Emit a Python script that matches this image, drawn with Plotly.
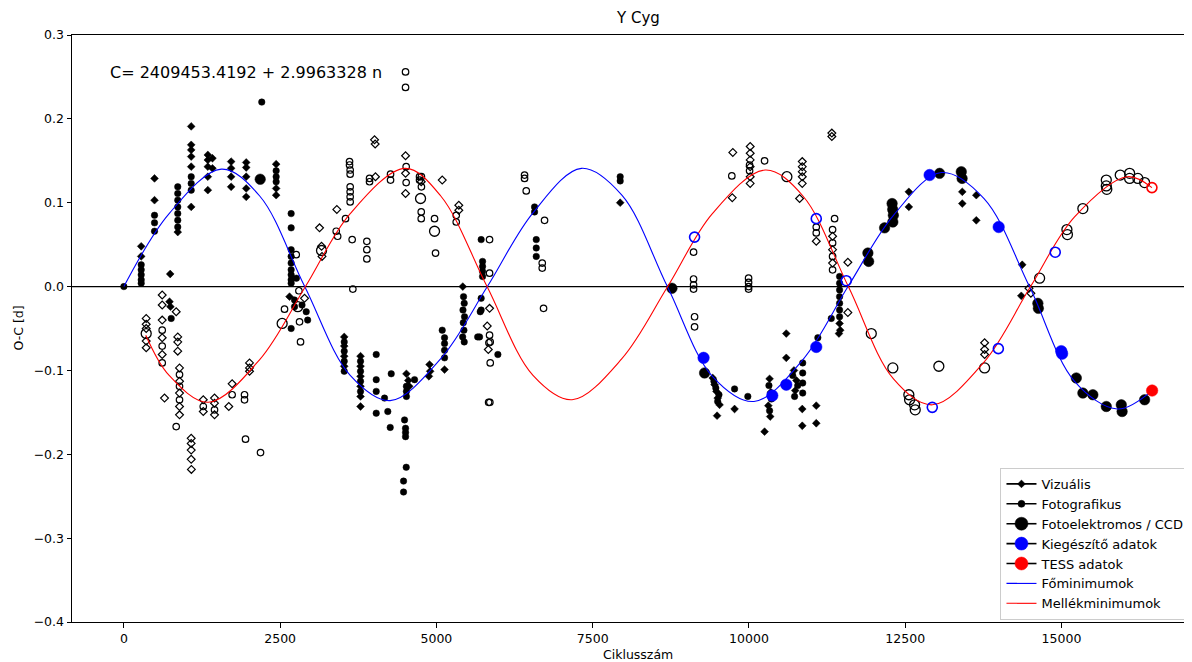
import plotly.graph_objects as go

# ---------------- data (cycle number n, O-C in days) ----------------
vis_primary = [(277, 0.048), (277, 0.036), (490, 0.129), (490, 0.103), (741, 0.015), (730, -0.018), (745, -0.024),
               (862, 0.065), (1077, 0.191), (1077, 0.169), (1077, 0.163), (1077, 0.155), (1077, 0.143), (1077, 0.095),
               (1343, 0.157), (1343, 0.151), (1343, 0.143), (1343, 0.131), (1343, 0.115), (1417, 0.153), (1417, 0.141),
               (1716, 0.149), (1716, 0.141), (1716, 0.131), (1716, 0.119), (1957, 0.148), (1957, 0.142), (1957, 0.131),
               (1957, 0.117), (1957, 0.107), (2436, 0.146), (2436, 0.117), (2436, 0.109), (2650, -0.012),
               (3525, -0.060), (3525, -0.071), (3525, -0.083), (3525, -0.095), (3786, -0.083), (3786, -0.095),
               (3786, -0.107), (3786, -0.119), (3786, -0.131), (3786, -0.143), (4520, -0.104), (4550, -0.112),
               (4565, -0.119), (4890, -0.093), (4900, -0.101), (4880, -0.107), (5130, -0.099), (5422, 0.000),
               (7940, 0.100), (9420, -0.109), (9450, -0.117), (9480, -0.125), (9500, -0.133), (9530, -0.141),
               (9490, -0.154), (9770, -0.146), (10250, -0.173), (10330, -0.110), (10350, -0.126), (10310, -0.142),
               (10340, -0.155), (10597, -0.056), (10597, -0.085), (10720, -0.100), (10760, -0.112), (10740, -0.124),
               (10853, -0.146), (10853, -0.166), (11077, -0.142), (11077, -0.163), (11450, -0.044), (11460, -0.052),
               (11440, -0.056), (12558, 0.113), (12558, 0.095), (13413, 0.113), (13413, 0.099), (13637, 0.109),
               (13637, 0.079), (14372, 0.026), (14357, -0.011)]

vis_secondary = [(357, -0.038), (357, -0.045), (357, -0.050), (357, -0.065), (357, -0.073), (613, -0.010),
                 (613, -0.022), (613, -0.040), (613, -0.061), (613, -0.081), (650, -0.133), (837, -0.030),
                 (862, -0.060), (862, -0.066), (862, -0.077), (890, -0.097), (890, -0.113), (890, -0.127),
                 (890, -0.143), (890, -0.153), (1077, -0.181), (1077, -0.187), (1077, -0.195), (1077, -0.206),
                 (1080, -0.218), (1270, -0.135), (1270, -0.149), (1450, -0.133), (1450, -0.139), (1450, -0.153),
                 (1678, -0.143), (1732, -0.116), (2010, -0.091), (2010, -0.097), (2010, -0.101), (2890, -0.014),
                 (3130, 0.070), (3407, 0.092), (3162, 0.048), (3170, 0.036), (4010, 0.175), (4020, 0.170),
                 (4025, 0.131), (4506, 0.156), (4506, 0.135), (4506, 0.111), (4757, 0.125), (5093, 0.127),
                 (5358, 0.097), (5358, 0.091), (5850, -0.026), (5813, -0.047), (5830, -0.075), (9742, 0.160),
                 (10020, 0.167), (10020, 0.159), (10020, 0.151), (10020, 0.143), (10020, 0.131), (10020, 0.123),
                 (9733, 0.106), (10810, 0.105), (10853, 0.149), (10853, 0.143), (10853, 0.137), (10853, 0.131),
                 (10853, 0.123), (11326, 0.183), (11326, 0.179), (11077, 0.054), (11582, 0.029), (11582, -0.031),
                 (11338, 0.060), (11338, 0.044), (11338, 0.028), (13770, -0.067), (13770, -0.075), (13770, -0.081),
                 (14480, -0.002), (14510, -0.008)]

photo_primary = [(0, 0.000), (277, 0.026), (277, 0.020), (277, 0.014), (277, 0.008), (277, 0.004), (490, 0.085),
                 (490, 0.076), (490, 0.066), (862, 0.119), (862, 0.111), (862, 0.103), (862, 0.095), (862, 0.087),
                 (862, 0.079), (862, 0.071), (1077, 0.131), (1077, 0.123), (1077, 0.115), (2206, 0.220),
                 (2436, 0.138), (2436, 0.131), (2436, 0.125), (2676, 0.087), (2676, 0.070), (2676, 0.044),
                 (2676, 0.036), (2676, 0.028), (2676, 0.020), (2676, 0.014), (2676, 0.008), (2676, 0.004),
                 (2760, 0.010), (2730, -0.016), (2730, -0.024), (2917, -0.030), (2940, -0.040), (2676, -0.050),
                 (757, -0.038), (2850, -0.022), (3525, -0.066), (3525, -0.077), (3525, -0.089), (3525, -0.101),
                 (3786, -0.089), (3786, -0.101), (3786, -0.113), (3786, -0.125), (4037, -0.081), (4037, -0.111),
                 (4037, -0.125), (4037, -0.151), (4170, -0.133), (4222, -0.149), (4261, -0.168), (4277, -0.104),
                 (4520, -0.119), (4520, -0.125), (4520, -0.131), (4650, -0.111), (4490, -0.159), (4506, -0.169),
                 (4506, -0.174), (4506, -0.179), (4517, -0.2155), (4474, -0.232), (4474, -0.245), (5093, -0.052),
                 (5130, -0.061), (5130, -0.068), (5130, -0.076), (5130, -0.085), (5434, -0.012), (5445, -0.020),
                 (5425, -0.028), (5450, -0.036), (5430, -0.043), (5440, -0.052), (5420, -0.060), (5445, -0.066),
                 (5716, 0.056), (5738, 0.030), (5738, 0.024), (5738, 0.018), (5738, 0.012), (5716, -0.014),
                 (5716, -0.028), (5701, -0.030), (5690, -0.060), (5660, -0.060), (5983, -0.081), (6570, 0.095),
                 (6570, 0.089), (6597, 0.056), (6597, 0.046), (6597, 0.036), (7940, 0.131), (7940, 0.126),
                 (9440, -0.113), (9470, -0.121), (9520, -0.129), (9500, -0.137), (9770, -0.122), (9982, -0.131),
                 (10320, -0.118), (10360, -0.134), (10330, -0.148), (10700, -0.106), (10780, -0.118),
                 (10730, -0.131), (10860, -0.091), (10860, -0.103), (10860, -0.115), (10860, -0.127),
                 (11450, 0.012), (11450, 0.004), (11450, -0.004), (11450, -0.012), (11450, -0.020),
                 (11450, -0.028), (11450, -0.036), (11317, -0.038), (11102, -0.061)]

photo_secondary = [(613, -0.052), (613, -0.071), (613, -0.091), (890, -0.105), (890, -0.119), (890, -0.135),
                   (1270, -0.143), (1450, -0.147), (837, -0.167), (1946, -0.182), (2186, -0.198), (1930, -0.129),
                   (1930, -0.135), (1732, -0.129), (2757, 0.038), (2810, -0.042), (2826, -0.066), (2570, -0.027),
                   (2800, -0.005), (3546, 0.081), (3610, 0.149), (3610, 0.145), (3620, 0.139), (3620, 0.134),
                   (3620, 0.119), (3620, 0.113), (3620, 0.107), (3620, 0.101), (3652, 0.056), (3887, 0.054),
                   (3887, 0.044), (3887, 0.033), (3663, -0.003), (3930, 0.129), (3930, 0.125), (4266, 0.134),
                   (4266, 0.127), (4516, 0.143), (4516, 0.124), (4506, 0.256), (4506, 0.2375), (4730, 0.131),
                   (4730, 0.127), (4760, 0.131), (4760, 0.119), (4757, 0.089), (4757, 0.081), (4970, 0.081),
                   (4986, 0.040), (5317, 0.085), (5317, 0.077), (5850, 0.056), (5850, 0.016), (5861, -0.091),
                   (5835, -0.138), (5855, -0.138), (5850, -0.058), (5860, -0.066), (5840, -0.067), (6410, 0.133),
                   (6410, 0.129), (6437, 0.114), (6693, 0.028), (6693, 0.022), (6730, 0.079), (6714, -0.026),
                   (3397, 0.066), (3420, 0.060), (9114, 0.041), (9114, 0.009), (9114, 0.002), (9114, -0.003),
                   (9130, -0.036), (9130, -0.048), (9994, 0.010), (9994, 0.005), (9994, 0.000), (9994, -0.003),
                   (9726, 0.132), (10010, 0.145), (10010, 0.138), (10250, 0.150), (11370, 0.081), (11338, 0.068),
                   (11338, 0.052), (11338, 0.036), (11338, 0.020), (11077, 0.071), (11077, 0.064)]

pe_primary = [(2181, 0.128), (8768, -0.002), (9290, -0.103), (11903, 0.040), (11915, 0.030), (12170, 0.070),
              (12290, 0.099), (12300, 0.092), (12310, 0.085), (12302, 0.077), (13050, 0.135), (13397, 0.137),
              (13410, 0.129), (14622, -0.020), (14630, -0.026), (15237, -0.109), (15342, -0.127), (15502, -0.129),
              (15717, -0.143), (15957, -0.141), (15970, -0.149), (16330, -0.135)]

pe_secondary = [(357, -0.056), (2532, -0.044), (2782, -0.024), (3162, 0.043), (4746, 0.105), (4970, 0.066),
                (10607, 0.131), (11957, -0.056), (12302, -0.097), (13038, -0.095), (12558, -0.129),
                (12570, -0.135), (12650, -0.141), (12660, -0.147), (13770, -0.097), (14650, 0.010),
                (15087, 0.068), (15095, 0.062), (15342, 0.093), (15717, 0.127), (15717, 0.120), (15725, 0.116),
                (15940, 0.133), (16090, 0.135), (16090, 0.129), (16222, 0.129), (16330, 0.124)]

sup_primary = [(9274, -0.085), (10373, -0.130), (10597, -0.117), (11077, -0.072), (12890, 0.133),
               (13995, 0.071), (14996, -0.077), (15010, -0.080)]
sup_secondary = [(9130, 0.059), (11077, 0.081), (11557, 0.007), (12933, -0.144), (13990, -0.074), (14900, 0.041)]

tess_primary = [(16450, -0.124)]
tess_secondary = [(16447, 0.118)]

# model curves at sample points
blue_n = [0, 724, 1560, 2173, 2893, 3621, 4260, 5070, 5815, 6545, 7320, 7967, 8695, 9415, 10080, 10864,
          11585, 12312, 13080, 13761, 14488, 15209, 15898, 16450]
blue_oc = [0.0, 0.087, 0.140, 0.108, 0.0, -0.106, -0.136, -0.086, 0.0, 0.088, 0.141, 0.109, 0.0, -0.107,
           -0.137, -0.087, 0.0, 0.085, 0.136, 0.105, 0.0, -0.113, -0.146, -0.124]
red_n = [350, 724, 1350, 2173, 2905, 3621, 4500, 5070, 5810, 6545, 7170, 7967, 8700, 9415, 10260, 10864,
         11590, 12312, 12936, 13761, 14505, 15209, 16054, 16447]
red_oc = [-0.058, -0.106, -0.138, -0.087, 0.0, 0.087, 0.141, 0.108, 0.0, -0.106, -0.135, -0.086, 0.0, 0.087,
          0.139, 0.108, 0.0, -0.110, -0.141, -0.090, 0.0, 0.083, 0.131, 0.118]

x_tick_vals = [0, 2500, 5000, 7500, 10000, 12500, 15000]
x_tick_text = ["0", "2500", "5000", "7500", "10000", "12500", "15000"]
y_tick_vals = [-0.4, -0.3, -0.2, -0.1, 0.0, 0.1, 0.2, 0.3]
y_tick_text = ["\u22120.4", "\u22120.3", "\u22120.2", "\u22120.1", "0.0", "0.1", "0.2", "0.3"]

legend_names = ["Vizuális", "Fotografikus", "Fotoelektromos / CCD", "Kiegészítő adatok", "TESS adatok",
                "Főminimumok", "Mellékminimumok"]

FONT = "DejaVu Sans"
fig = go.Figure()


def unzip(pairs):
    return [p[0] for p in pairs], [p[1] for p in pairs]


def add_points(pairs, symbol, size, color, lw):
    x, y = unzip(pairs)
    fig.add_trace(go.Scatter(x=x, y=y, mode="markers", showlegend=False, hoverinfo="skip",
                             marker=dict(symbol=symbol, size=size, color=color,
                                         line=dict(color=color, width=lw))))


add_points(vis_secondary, "diamond-open", 6, "black", 1.2)
add_points(photo_secondary, "circle-open", 6.5, "black", 1.2)
add_points(pe_secondary, "circle-open", 10, "black", 1.3)
add_points(vis_primary, "diamond", 6, "black", 0.5)
add_points(photo_primary, "circle", 6.5, "black", 0.5)
add_points(pe_primary, "circle", 10.5, "black", 0.5)

fig.add_trace(go.Scatter(x=blue_n, y=blue_oc, mode="lines", showlegend=False, hoverinfo="skip",
                         line=dict(color="#0000ff", width=1.1, shape="spline", smoothing=1.0)))
fig.add_trace(go.Scatter(x=red_n, y=red_oc, mode="lines", showlegend=False, hoverinfo="skip",
                         line=dict(color="#ff0000", width=1.1, shape="spline", smoothing=1.0)))

add_points(sup_secondary, "circle-open", 10, "#0000ff", 1.6)
add_points(sup_primary, "circle", 11.5, "#0000ff", 0.5)
add_points(tess_secondary, "circle-open", 10, "#ff0000", 1.6)
add_points(tess_primary, "circle", 11.5, "#ff0000", 0.5)

# legend-only entries (matplotlib style: line + marker)
leg_markers = [("diamond", 6, "black"), ("circle", 7, "black"), ("circle", 13, "black"),
               ("circle", 13, "#0000ff"), ("circle", 13, "#ff0000")]
for name, (sym, sz, col) in zip(legend_names[:5], leg_markers):
    fig.add_trace(go.Scatter(x=[None], y=[None], mode="lines+markers", name=name,
                             line=dict(color="black", width=1.6),
                             marker=dict(symbol=sym, size=sz, color=col, line=dict(color=col, width=0.5))))
fig.add_trace(go.Scatter(x=[None], y=[None], mode="lines", name=legend_names[5],
                         line=dict(color="#0000ff", width=1.1)))
fig.add_trace(go.Scatter(x=[None], y=[None], mode="lines", name=legend_names[6],
                         line=dict(color="#ff0000", width=1.1)))

fig.add_shape(type="line", xref="paper", x0=0, x1=1, yref="y", y0=0, y1=0,
              line=dict(color="black", width=1.2), layer="below")

# the page body adds an 8 px offset; size the figure so the plot lands where the reference has it
fig.update_layout(
    width=1184, height=654,
    margin=dict(l=64, r=0, t=27, b=40),
    paper_bgcolor="white", plot_bgcolor="white",
    font=dict(family=FONT, size=12.5, color="black"),
    showlegend=True,
    legend=dict(x=0.829, y=0.2624, xanchor="left", yanchor="top", bgcolor="rgba(255,255,255,0.85)",
                bordercolor="#cccccc", borderwidth=1, font=dict(family=FONT, size=13, color="black"),
                traceorder="normal", itemsizing="trace"),
    xaxis=dict(range=[-830, 17088], showgrid=False, zeroline=False, showline=True, linecolor="black",
               linewidth=1, mirror=True, ticks="outside", ticklen=4.5, tickwidth=1, tickcolor="black",
               tickvals=x_tick_vals, ticktext=x_tick_text, tickfont=dict(size=12.5, family=FONT)),
    yaxis=dict(range=[-0.4, 0.3], showgrid=False, zeroline=False, showline=True, linecolor="black",
               linewidth=1, mirror=False, ticks="outside", ticklen=4.5, tickwidth=1, tickcolor="black",
               tickvals=y_tick_vals, ticktext=y_tick_text, tickfont=dict(size=12.5, family=FONT)),
    annotations=[
        dict(text="Y Cyg", xref="paper", yref="paper", x=0.5054, y=1.029, showarrow=False,
             xanchor="center", yanchor="middle", font=dict(size=15, family=FONT)),
        dict(text="Ciklusszám", xref="paper", yref="paper", x=0.5054, y=-0.0562, showarrow=False,
             xanchor="center", yanchor="middle", font=dict(size=12.5, family=FONT)),
        dict(text="O-C [d]", xref="paper", yref="paper", x=-0.0482, y=0.5, showarrow=False,
             xanchor="center", yanchor="middle", textangle=-90, font=dict(size=12.5, family=FONT)),
        dict(text="C= 2409453.4192 + 2.9963328 n", xref="x", yref="y", x=-262, y=0.2552, showarrow=False,
             xanchor="left", yanchor="middle", font=dict(size=16, family=FONT)),
    ],
)

fig.write_html("out.html")
